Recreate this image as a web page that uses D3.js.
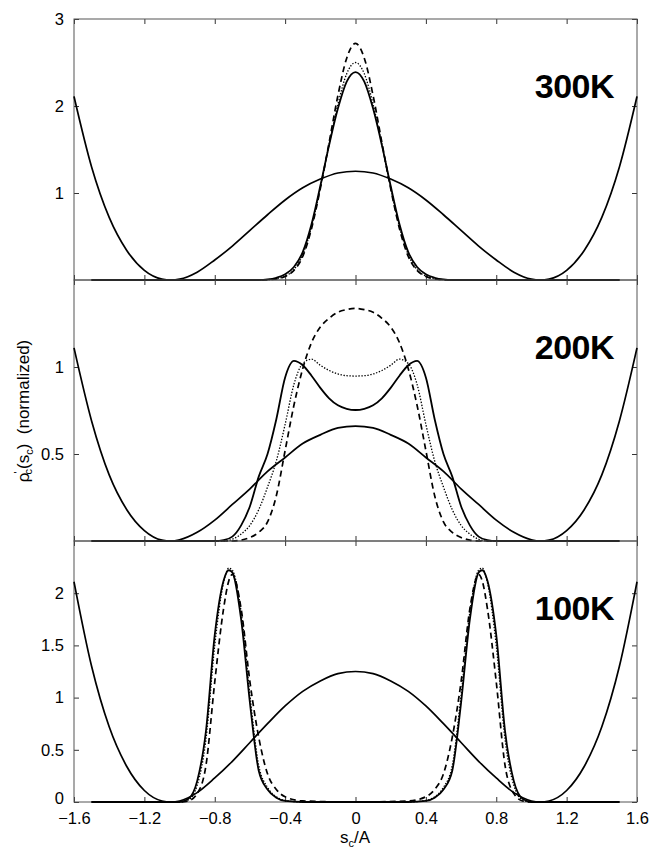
<!DOCTYPE html>
<html>
<head>
<meta charset="utf-8">
<script src="https://cdn.jsdelivr.net/npm/d3@7"></script>
<style>
    body { margin: 0; background: #fff; }
    svg text { font-family: "Liberation Sans", Arial, Helvetica, sans-serif; fill: #000; }
</style>
</head>
<body>
<div id="chart"></div>
<script>
// double-well potential (300K / 100K panels share one scaling, 200K another)
const potX = [-1.6, -1.5, -1.4, -1.3, -1.2, -1.1, -1.05, -1.0, -0.9, -0.8, -0.7, -0.6, -0.5, -0.4, -0.3, -0.2, -0.1, 0,
    0.1, 0.2, 0.3, 0.4, 0.5, 0.6, 0.7, 0.8, 0.9, 1.0, 1.05, 1.1, 1.2, 1.3, 1.4, 1.5, 1.6];
const potential = [2.11, 1.30, 0.72, 0.34, 0.11, 0.01, 0, 0.01, 0.09, 0.23, 0.39, 0.57, 0.75, 0.92, 1.06, 1.16, 1.23, 1.25,
    1.23, 1.16, 1.06, 0.92, 0.75, 0.57, 0.39, 0.23, 0.09, 0.01, 0, 0.01, 0.11, 0.34, 0.72, 1.30, 2.11];
const potential200 = [1.11, 0.69, 0.38, 0.18, 0.06, 0.005, 0, 0.007, 0.05, 0.12, 0.21, 0.30, 0.40, 0.48, 0.56, 0.61, 0.65, 0.66,
    0.65, 0.61, 0.56, 0.48, 0.40, 0.30, 0.21, 0.12, 0.05, 0.007, 0, 0.005, 0.06, 0.18, 0.38, 0.69, 1.11];

// 300K
const x300 = [-1.5, -0.6, -0.55, -0.5, -0.45, -0.4, -0.35, -0.3, -0.25, -0.2, -0.15, -0.1, -0.05, 0,
    0.05, 0.1, 0.15, 0.2, 0.25, 0.3, 0.35, 0.4, 0.45, 0.5, 0.55, 0.6, 1.5];
const solid300 = [0, 0, 0, 0.006, 0.025, 0.065, 0.15, 0.32, 0.64, 1.08, 1.55, 1.97, 2.28, 2.39,
    2.28, 1.97, 1.55, 1.08, 0.64, 0.32, 0.15, 0.065, 0.025, 0.006, 0, 0, 0];
const dotted300 = [0, 0, 0, 0.004, 0.015, 0.045, 0.12, 0.29, 0.61, 1.06, 1.56, 2.02, 2.37, 2.50,
    2.37, 2.02, 1.56, 1.06, 0.61, 0.29, 0.12, 0.045, 0.015, 0.004, 0, 0, 0];
const dashed300 = [0, 0, 0, 0.003, 0.012, 0.04, 0.11, 0.27, 0.59, 1.05, 1.58, 2.12, 2.55, 2.72,
    2.55, 2.12, 1.58, 1.05, 0.59, 0.27, 0.11, 0.04, 0.012, 0.003, 0, 0, 0];

// 200K
const x200 = [-1.5, -0.8, -0.75, -0.7, -0.65, -0.6, -0.55, -0.5, -0.45, -0.4, -0.35, -0.3, -0.25, -0.2, -0.15, -0.1, -0.05, 0,
    0.05, 0.1, 0.15, 0.2, 0.25, 0.3, 0.35, 0.4, 0.45, 0.5, 0.55, 0.6, 0.65, 0.7, 0.75, 0.8, 1.5];
const solid200 = [0, 0, 0.005, 0.025, 0.09, 0.20, 0.37, 0.50, 0.70, 0.94, 1.035, 1.01, 0.95, 0.88, 0.82, 0.78, 0.76, 0.753,
    0.76, 0.78, 0.82, 0.88, 0.95, 1.01, 1.035, 0.94, 0.70, 0.50, 0.37, 0.20, 0.09, 0.025, 0.005, 0, 0];
const dotted200 = [0, 0, 0, 0.01, 0.04, 0.09, 0.18, 0.31, 0.46, 0.67, 0.90, 1.02, 1.045, 1.01, 0.98, 0.96, 0.95, 0.948,
    0.95, 0.96, 0.98, 1.01, 1.045, 1.02, 0.90, 0.67, 0.46, 0.31, 0.18, 0.09, 0.04, 0.01, 0, 0, 0];
const dashed200 = [0, 0, 0, 0, 0.005, 0.02, 0.05, 0.11, 0.26, 0.52, 0.78, 0.99, 1.14, 1.23, 1.28, 1.315, 1.33, 1.337,
    1.33, 1.315, 1.28, 1.23, 1.14, 0.99, 0.78, 0.52, 0.26, 0.11, 0.05, 0.02, 0.005, 0, 0, 0, 0];

// 100K
const x100 = [-1.5, -1.0, -0.95, -0.9, -0.85, -0.8, -0.75, -0.72, -0.7, -0.65, -0.6, -0.55, -0.5, -0.45, -0.4, -0.3, 0,
    0.3, 0.4, 0.45, 0.5, 0.55, 0.6, 0.65, 0.7, 0.72, 0.75, 0.8, 0.85, 0.9, 0.95, 1.0, 1.5];
const solid100 = [0, 0, 0.03, 0.20, 0.68, 1.60, 2.12, 2.22, 2.20, 1.75, 0.95, 0.30, 0.12, 0.04, 0.01, 0, 0,
    0, 0.01, 0.04, 0.12, 0.30, 0.95, 1.75, 2.20, 2.22, 2.12, 1.60, 0.68, 0.20, 0.03, 0, 0];
const dotted100 = [0, 0, 0.02, 0.16, 0.60, 1.50, 2.10, 2.24, 2.22, 1.82, 1.02, 0.35, 0.14, 0.05, 0.015, 0, 0,
    0, 0.015, 0.05, 0.14, 0.35, 1.02, 1.82, 2.22, 2.24, 2.10, 1.50, 0.60, 0.16, 0.02, 0, 0];
const dashed100 = [0, 0, 0.01, 0.08, 0.35, 1.15, 1.85, 2.12, 2.18, 1.85, 1.15, 0.62, 0.27, 0.12, 0.05, 0.01, 0,
    0.01, 0.05, 0.12, 0.27, 0.62, 1.15, 1.85, 2.18, 2.12, 1.85, 1.15, 0.35, 0.08, 0.01, 0, 0];

const panelLabels = ["300K", "200K", "100K"];
const yMaxes = [3, 1.5, 2.5];
const yTickValues = [[1, 2, 3], [0.5, 1], [0, 0.5, 1, 1.5, 2]];
const xTickValues = [-1.6, -1.2, -0.8, -0.4, 0, 0.4, 0.8, 1.2, 1.6];

const width = 650;
const height = 850;
const left = 74;
const right = 637;
const top0 = 19;
const panelH = 261;

const panels = [
    { xs: x300, series: [solid300, dotted300, dashed300], pot: potential },
    { xs: x200, series: [solid200, dotted200, dashed200], pot: potential200 },
    { xs: x100, series: [solid100, dotted100, dashed100], pot: potential }
];
const styles = [
    { w: 1.8, dash: null },
    { w: 1.3, dash: "1.4,1.6" },
    { w: 1.7, dash: "6,4" }
];

const svg = d3.select("#chart")
    .append("svg")
    .attr("width", width)
    .attr("height", height);

const x = d3.scaleLinear().domain([-1.6, 1.6]).range([left, right]);

panels.forEach((p, i) => {
    const top = top0 + i * panelH;
    const bottom = top + panelH;
    const y = d3.scaleLinear().domain([0, yMaxes[i]]).range([bottom, top]);
    const g = svg.append("g");

    // axes, ticks pointing inwards
    g.append("g")
        .attr("transform", `translate(${left},0)`)
        .call(d3.axisLeft(y).tickValues(yTickValues[i]).tickSize(-5).tickPadding(10)
            .tickFormat(d3.format("~g")))
        .selectAll(".tick text")
        .attr("dy", d => d === 0 ? "0.1em" : "0.32em");
    g.append("g")
        .attr("transform", `translate(${right},0)`)
        .call(d3.axisRight(y).tickValues(yTickValues[i]).tickSize(-5).tickFormat(""));
    g.append("g")
        .attr("transform", `translate(0,${top})`)
        .call(d3.axisTop(x).tickValues(xTickValues).tickSize(-5).tickFormat(""));
    g.append("g")
        .attr("transform", `translate(0,${bottom})`)
        .call(d3.axisBottom(x).tickValues(xTickValues).tickSize(-5).tickPadding(10)
            .tickFormat(i === 2 ? (d => d === 0 ? "0" : d3.format(".1f")(d)) : ""));

    g.selectAll(".domain").remove();
    g.selectAll(".tick line").attr("stroke", "#333");
    g.selectAll(".tick text").style("font-size", "16.5px").attr("fill", "#000");

    // frame
    g.append("rect")
        .attr("x", left)
        .attr("y", top)
        .attr("width", right - left)
        .attr("height", panelH)
        .attr("fill", "none")
        .attr("stroke", "#555")
        .attr("stroke-width", 1);

    const line = d3.line()
        .x(d => x(d[0]))
        .y(d => y(d[1]))
        .curve(d3.curveMonotoneX);

    p.series.forEach((s, k) => {
        g.append("path")
            .datum(d3.zip(p.xs, s))
            .attr("d", line)
            .attr("fill", "none")
            .attr("stroke", "#000")
            .attr("stroke-width", styles[k].w)
            .attr("stroke-dasharray", styles[k].dash);
    });

    g.append("path")
        .datum(d3.zip(potX, p.pot))
        .attr("d", line)
        .attr("fill", "none")
        .attr("stroke", "#000")
        .attr("stroke-width", 1.7);

    g.append("text")
        .attr("x", 614)
        .attr("y", top + 79)
        .attr("text-anchor", "end")
        .style("font-size", "34px")
        .style("font-weight", "bold")
        .style("letter-spacing", "-0.5px")
        .text(panelLabels[i]);
});

// axis titles
const xt = svg.append("text")
    .attr("x", 355)
    .attr("y", 843)
    .attr("text-anchor", "middle")
    .style("font-size", "17px");
xt.append("tspan").text("s");
xt.append("tspan").attr("dy", 4).style("font-size", "11px").text("c");
xt.append("tspan").attr("dy", -4).text("/A");

const yt = svg.append("text")
    .attr("transform", "translate(29,411) rotate(-90)")
    .attr("text-anchor", "middle")
    .attr("xml:space", "preserve")
    .style("white-space", "pre")
    .style("font-size", "17px");
yt.append("tspan").text("ρ");
yt.append("tspan").attr("dy", -7).attr("dx", -1).style("font-size", "11px").text("'");
yt.append("tspan").attr("dy", 10).attr("dx", -3).style("font-size", "11px").text("c");
yt.append("tspan").attr("dy", -3).text("(s");
yt.append("tspan").attr("dy", 4).style("font-size", "11px").text("c");
yt.append("tspan").attr("dy", -4).text(")\u00a0\u00a0(normalized)");
</script>
</body>
</html>
